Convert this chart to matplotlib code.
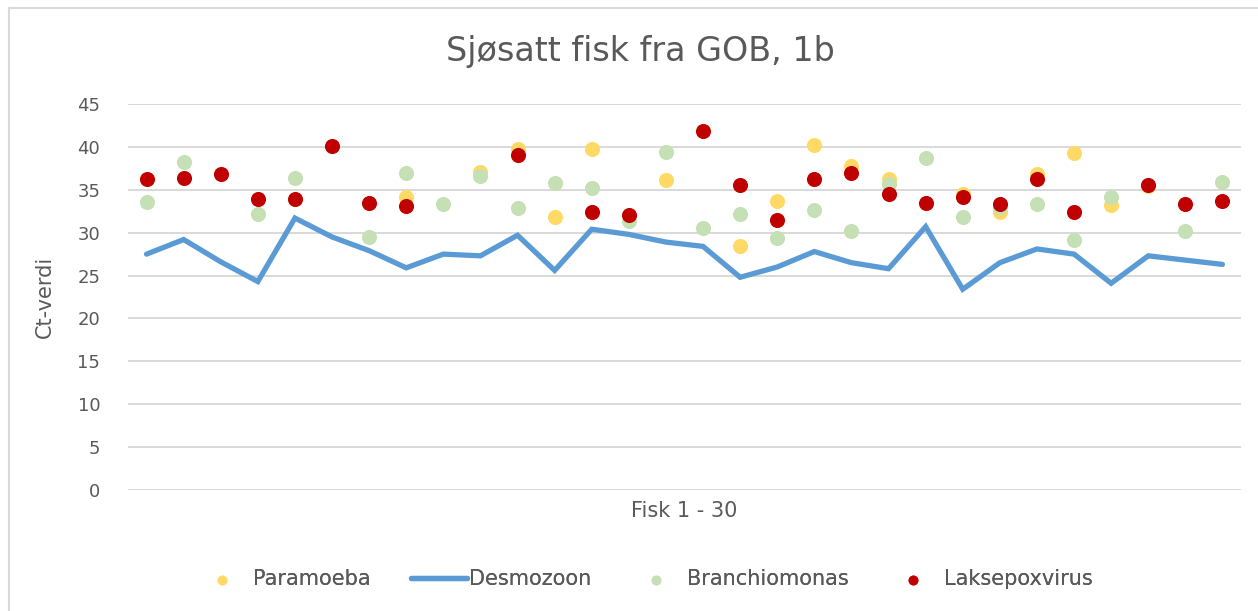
#!/usr/bin/env python3
# coding: utf-8

import matplotlib
matplotlib.use('Agg')
import matplotlib.pyplot as plt
import numpy as np

nan = np.nan

fisk = np.arange(1, 31)

paramoeba = [nan, nan, nan, nan, nan, nan, nan, 34.2, nan, 37.1,
             39.8, 31.8, 39.8, nan, 36.1, nan, 28.5, 33.7, 40.2, 37.8,
             36.3, nan, 34.5, 32.4, 36.8, 39.3, 33.2, 35.4, nan, nan]

desmozoon = [27.5, 29.2, 26.6, 24.3, 31.7, 29.5, 27.9, 25.9, 27.5, 27.3,
             29.7, 25.6, 30.4, 29.8, 28.9, 28.4, 24.8, 26.0, 27.8, 26.5,
             25.8, 30.7, 23.4, 26.5, 28.1, 27.5, 24.1, 27.3, 26.8, 26.3]

branchiomonas = [33.6, 38.2, nan, 32.2, 36.4, nan, 29.5, 37.0, 33.4, 36.6,
                 32.9, 35.8, 35.2, 31.4, 39.4, 30.6, 32.2, 29.4, 32.7, 30.2,
                 35.7, 38.7, 31.8, 33.0, 33.3, 29.1, 34.1, 35.5, 30.2, 35.9]

laksepoxvirus = [36.3, 36.4, 36.8, 33.9, 33.9, 40.1, 33.5, 33.1, nan, nan,
                 39.0, nan, 32.4, 32.1, nan, 41.9, 35.5, 31.5, 36.3, 36.9,
                 34.5, 33.5, 34.1, 33.4, 36.3, 32.4, nan, 35.6, 33.3, 33.7]

yticks = list(range(0, 50, 5))

grey = '#595959'
font = 'DejaVu Sans'
W, H = 1258, 611


def main():
    plt.rcParams['font.family'] = font
    fig = plt.figure(figsize=(W / 100, H / 100), dpi=100)
    ax = fig.add_axes([128 / W, 1 - 490 / H, 1113 / W, 386 / H])

    ms = 118
    ln, = ax.plot(fisk, desmozoon, color='#5B9BD5', lw=3.8, zorder=2,
                  solid_capstyle='round', solid_joinstyle='miter',
                  label='Desmozoon')
    p = ax.scatter(fisk, paramoeba, s=ms, color='#FFD966', zorder=3,
                   linewidths=0, label='Paramoeba')
    b = ax.scatter(fisk, branchiomonas, s=ms, color='#C5E0B4', zorder=4,
                   linewidths=0, label='Branchiomonas')
    r = ax.scatter(fisk, laksepoxvirus, s=ms, color='#C00000', zorder=5,
                   linewidths=0, label='Laksepoxvirus')

    ax.set_xlim(0.5, 30.5)
    ax.set_ylim(0, 45)
    ax.set_yticks(yticks)
    ax.set_xticks([])
    ax.tick_params(axis='y', length=0, pad=20, labelsize=13, labelcolor=grey)
    ax.grid(axis='y', color='#D9D9D9', lw=1.4)
    ax.set_axisbelow(True)
    for s in ax.spines.values():
        s.set_visible(False)

    ax.set_xlabel('Fisk 1 - 30', fontsize=15, color=grey, labelpad=8)
    ax.set_ylabel('Ct-verdi', fontsize=15, color=grey, labelpad=16)
    fig.text(640 / W, 1 - 52 / H, 'Sjøsatt fisk fra GOB, 1b', ha='center',
             va='center', fontsize=24, color=grey)

    # chart area border
    fig.add_artist(plt.Line2D([9 / W, 9 / W], [0, 1 - 8 / H],
                              color='#D9D9D9', lw=1.5))
    fig.add_artist(plt.Line2D([9 / W, 1], [1 - 8 / H, 1 - 8 / H],
                              color='#D9D9D9', lw=1.5))

    # legend, one entry at a time so the spacing matches
    em = 15 * 100 / 72
    ly = 1 - 579 / H
    entries = [(p, 'Paramoeba', 222 - 0.5 * em, 1.0, 0.99),
               (ln, 'Desmozoon', 411, 56 / em, 0.1),
               (b, 'Branchiomonas', 656 - 0.5 * em, 1.0, 0.99),
               (r, 'Laksepoxvirus', 913 - 0.5 * em, 1.0, 0.99)]
    for h, lab, x0, hl, pad in entries:
        leg = fig.legend([h], [lab], loc='center left',
                         bbox_to_anchor=(x0 / W, ly), frameon=False,
                         fontsize=15, labelcolor=grey, borderpad=0,
                         borderaxespad=0, handlelength=hl,
                         handletextpad=pad, markerscale=0.65)
        fig.add_artist(leg)

    fig.savefig('out.png', dpi=100)


if __name__ == '__main__':
    main()
